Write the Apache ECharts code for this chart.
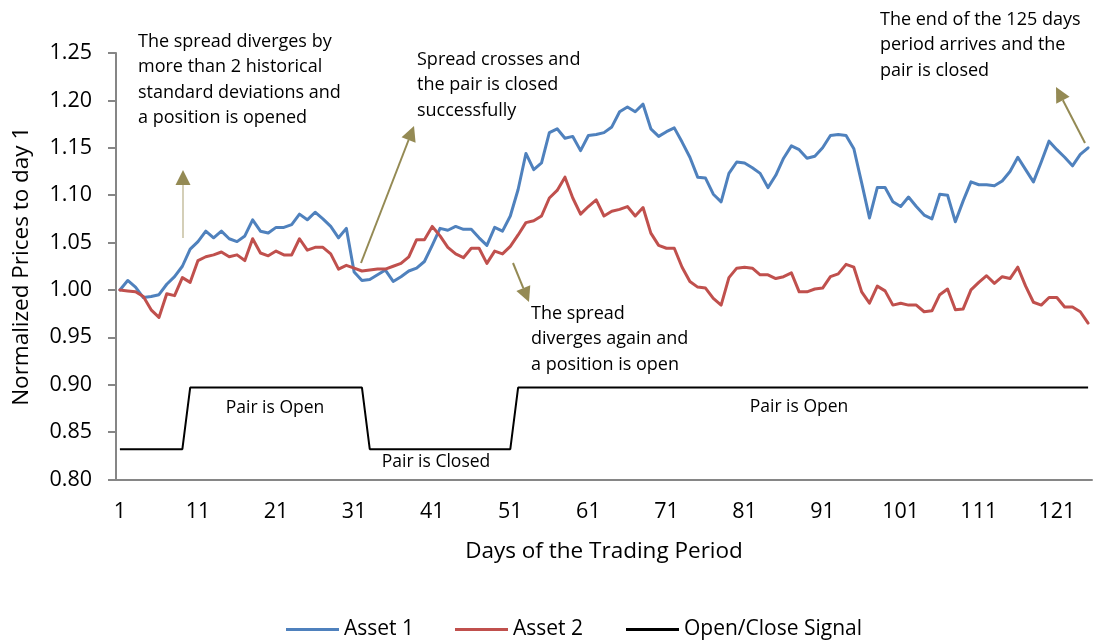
<!DOCTYPE html>
<html><head><meta charset="utf-8">
<script src="https://cdn.jsdelivr.net/npm/echarts@6/dist/echarts.min.js"></script>
<style>html,body{margin:0;padding:0;background:#fff}#c{width:1093px;height:642px}</style>
</head><body><div id="c"></div>
<script>
const days = [1,2,3,4,5,6,7,8,9,10,11,12,13,14,15,16,17,18,19,20,21,22,23,24,25,26,27,28,29,30,
31,32,33,34,35,36,37,38,39,40,41,42,43,44,45,46,47,48,49,50,51,52,53,54,55,56,57,58,59,60,
61,62,63,64,65,66,67,68,69,70,71,72,73,74,75,76,77,78,79,80,81,82,83,84,85,86,87,88,89,90,
91,92,93,94,95,96,97,98,99,100,101,102,103,104,105,106,107,108,109,110,111,112,113,114,115,116,117,118,119,120,
121,122,123,124,125];

const asset1 = [
1.000,1.010,1.003,0.992,0.993,0.995,1.006,1.014,1.025,1.043,
1.051,1.062,1.055,1.062,1.054,1.051,1.057,1.074,1.062,1.060,
1.066,1.066,1.069,1.080,1.074,1.082,1.075,1.067,1.055,1.065,
1.019,1.010,1.011,1.016,1.021,1.009,1.014,1.020,1.023,1.030,
1.047,1.065,1.063,1.067,1.064,1.064,1.055,1.047,1.066,1.062,
1.078,1.106,1.144,1.127,1.134,1.166,1.170,1.160,1.162,1.147,
1.163,1.164,1.166,1.172,1.188,1.193,1.188,1.196,1.170,1.162,
1.167,1.171,1.156,1.140,1.119,1.118,1.101,1.093,1.123,1.135,
1.134,1.129,1.123,1.108,1.121,1.139,1.152,1.148,1.139,1.141,
1.150,1.163,1.164,1.163,1.149,1.113,1.076,1.108,1.108,1.093,
1.088,1.098,1.088,1.079,1.075,1.101,1.100,1.072,1.094,1.114,
1.111,1.111,1.110,1.115,1.125,1.140,1.127,1.114,1.135,1.157,
1.148,1.140,1.131,1.143,1.150];

const asset2 = [
1.000,0.999,0.998,0.993,0.979,0.971,0.996,0.994,1.013,1.008,
1.031,1.035,1.037,1.040,1.035,1.037,1.031,1.054,1.039,1.036,
1.041,1.037,1.037,1.054,1.042,1.045,1.045,1.038,1.022,1.026,
1.023,1.020,1.021,1.022,1.022,1.025,1.028,1.035,1.053,1.053,
1.067,1.057,1.045,1.038,1.034,1.044,1.044,1.028,1.041,1.038,
1.046,1.058,1.071,1.073,1.078,1.097,1.105,1.119,1.097,1.080,
1.088,1.095,1.078,1.083,1.085,1.088,1.078,1.087,1.060,1.047,
1.044,1.044,1.024,1.009,1.003,1.002,0.991,0.984,1.013,1.023,
1.024,1.023,1.016,1.016,1.012,1.014,1.018,0.998,0.998,1.001,
1.002,1.014,1.017,1.027,1.024,0.998,0.986,1.004,0.999,0.984,
0.986,0.984,0.984,0.977,0.978,0.995,1.001,0.979,0.980,1.000,
1.008,1.015,1.007,1.014,1.012,1.024,1.004,0.987,0.984,0.992,
0.992,0.982,0.982,0.977,0.965];

const signal = [
0.832,0.832,0.832,0.832,0.832,0.832,0.832,0.832,0.832,0.897,
0.897,0.897,0.897,0.897,0.897,0.897,0.897,0.897,0.897,0.897,
0.897,0.897,0.897,0.897,0.897,0.897,0.897,0.897,0.897,0.897,
0.897,0.897,0.832,0.832,0.832,0.832,0.832,0.832,0.832,0.832,
0.832,0.832,0.832,0.832,0.832,0.832,0.832,0.832,0.832,0.832,
0.832,0.897,0.897,0.897,0.897,0.897,0.897,0.897,0.897,0.897,
0.897,0.897,0.897,0.897,0.897,0.897,0.897,0.897,0.897,0.897,
0.897,0.897,0.897,0.897,0.897,0.897,0.897,0.897,0.897,0.897,
0.897,0.897,0.897,0.897,0.897,0.897,0.897,0.897,0.897,0.897,
0.897,0.897,0.897,0.897,0.897,0.897,0.897,0.897,0.897,0.897,
0.897,0.897,0.897,0.897,0.897,0.897,0.897,0.897,0.897,0.897,
0.897,0.897,0.897,0.897,0.897,0.897,0.897,0.897,0.897,0.897,
0.897,0.897,0.897,0.897,0.897];

const seriesNames = ['Asset 1', 'Asset 2', 'Open/Close Signal'];
const xTitle = 'Days of the Trading Period';
const yTitle = 'Normalized Prices to day 1';

const FONT = '"Open Sans", sans-serif';
const AX = '#868686';
const OLIVE = '#948A54';

function arrow(x1, y1, x2, y2, w, shaftColor) {
  const dx = x2 - x1, dy = y2 - y1, L = Math.sqrt(dx*dx + dy*dy);
  const ux = dx / L, uy = dy / L, px = -uy, py = ux;
  const hl = 15, hw = 7.5;
  const bx = x2 - ux*hl, by = y2 - uy*hl;
  return [
    {type:'line', silent:true, shape:{x1:x1, y1:y1, x2:bx, y2:by}, style:{stroke:shaftColor, lineWidth:w}},
    {type:'polygon', silent:true, shape:{points:[[x2,y2],[bx+px*hw,by+py*hw],[bx-px*hw,by-py*hw]]}, style:{fill:OLIVE}}
  ];
}
function label(x, y, text, align, size) {
  return {type:'text', silent:true, x:x, y:y,
    style:{text:text, font:(size || 18) + 'px ' + FONT, fill:'#000', lineHeight:25.5, align:align || 'left', verticalAlign:'top'}};
}

const graphics = [].concat(
  arrow(183, 238, 183, 170, 1.2, '#B8AF88'),
  arrow(361, 263, 414, 126, 2, OLIVE),
  arrow(513, 263, 529, 302, 2, OLIVE),
  arrow(1085, 143, 1056, 87, 2, OLIVE),
  [
    label(138, 29, 'The spread diverges by\nmore than 2 historical\nstandard deviations and\na position is opened'),
    label(417, 47, 'Spread crosses and\nthe pair is closed\nsuccessfully'),
    label(880, 7, 'The end of the 125 days\nperiod arrives and the\npair is closed'),
    label(531, 301, 'The spread\ndiverges again and\na position is open'),
    label(275, 395, 'Pair is Open', 'center', 17.5),
    label(436, 449, 'Pair is Closed', 'center', 17.5),
    label(799, 394, 'Pair is Open', 'center', 17.5)
  ]
);

const chart = echarts.init(document.getElementById('c'));
const legendStyle = {icon:'rect', itemWidth:53, itemHeight:3, top:614, textStyle:{fontSize:21, color:'#000', fontFamily:FONT}};
chart.setOption({
  animation:false,
  backgroundColor:'#fff',
  textStyle:{fontFamily:FONT},
  grid:{left:116, right:1, top:53, bottom:162.5, containLabel:false},
  legend:[
    Object.assign({left:281, data:[seriesNames[0]]}, legendStyle),
    Object.assign({left:450, data:[seriesNames[1]]}, legendStyle),
    Object.assign({left:621, data:[seriesNames[2]]}, legendStyle)
  ],
  xAxis:{
    type:'category', data:days, boundaryGap:true,
    name:xTitle, nameLocation:'middle', nameGap:61,
    nameTextStyle:{fontSize:22.5, color:'#000', fontFamily:FONT},
    axisLine:{lineStyle:{color:AX, width:2}},
    axisTick:{interval:9, length:6, lineStyle:{color:AX, width:2}},
    axisLabel:{interval:9, fontSize:21.5, color:'#000', margin:21, fontFamily:FONT},
    splitLine:{show:false}
  },
  yAxis:{
    type:'value', min:0.8, max:1.25, interval:0.05,
    name:yTitle, nameLocation:'middle', nameGap:83, nameRotate:90,
    nameTextStyle:{fontSize:22.5, color:'#000', fontFamily:FONT},
    axisLine:{show:true, lineStyle:{color:AX, width:2}},
    axisTick:{show:true, length:8, lineStyle:{color:AX, width:2}},
    axisLabel:{fontSize:21.5, color:'#000', margin:24, fontFamily:FONT, formatter:function(v){return v.toFixed(2);}},
    splitLine:{show:false}
  },
  series:[
    {name:seriesNames[0], type:'line', data:asset1, symbol:'none', showSymbol:false, color:'#4F81BD',
     lineStyle:{width:3, color:'#4F81BD', join:'round', cap:'round'}},
    {name:seriesNames[1], type:'line', data:asset2, symbol:'none', showSymbol:false, color:'#C0504D',
     lineStyle:{width:3, color:'#C0504D', join:'round', cap:'round'}},
    {name:seriesNames[2], type:'line', data:signal, symbol:'none', showSymbol:false, color:'#000',
     lineStyle:{width:2, color:'#000'}}
  ],
  graphic:graphics
});
</script>
</body></html>
